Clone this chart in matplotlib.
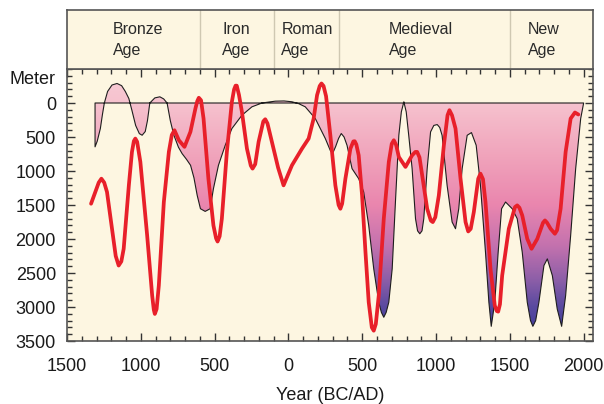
import numpy as np
import matplotlib
matplotlib.use("Agg")
import matplotlib.pyplot as plt
import matplotlib.transforms as mtransforms
from matplotlib.colors import LinearSegmentedColormap, Normalize

plt.rcParams['font.family'] = ['Liberation Sans', 'DejaVu Sans']

# black curve (shaded), year vs depth in meters
black_year = [-1310, -1295, -1274, -1260, -1247, -1225, -1195, -1161, -1130, -1105, -1081,
              -1060, -1035, -1010, -991, -970, -955, -939, -905, -871, -845, -822,
              -800, -776, -745, -720, -690, -663, -640, -618, -596, -564, -530, -508,
              -474, -428, -383, -315, -247, -179, -130, -89, -30, 24, 70, 114, 182, 250,
              284, 300, 320, 340, 358, 377, 397, 431, 476, 510, 544, 578, 612, 630, 646,
              662, 680, 703, 725, 748, 765, 782, 798, 815, 838, 861, 875, 890, 905, 917,
              940, 963, 985, 1008, 1025, 1041, 1075, 1109, 1132, 1154, 1177, 1211, 1240,
              1272, 1301, 1335, 1358, 1374, 1398, 1421, 1444, 1471, 1516, 1550, 1584,
              1618, 1640, 1656, 1675, 1697, 1731, 1754, 1788, 1821, 1851, 1878, 1912,
              1946, 1980, 2000]
black_depth = [645, 560, 375, 170, 0, -170, -265, -287, -255, -170, -66,
               110, 330, 450, 474, 420, 260, 0, -75, -91, -60, 0,
               260, 474, 650, 745, 830, 916, 1100, 1358, 1555, 1594, 1555, 1260,
               916, 622, 376, 180, 56, 0, -15, -27, -30, -18, 10, 56, 228, 523,
               700, 740, 640, 520, 449, 500, 622, 965, 1113, 1309, 1801, 2439, 2930, 3080, 3151,
               3080, 2930, 2439, 1456, 475, 130, -18, 130, 475, 965, 1702, 1880, 1923, 1880, 1702,
               965, 425, 330, 317, 360, 475, 1211, 1751, 1849, 1555, 965, 475, 435,
               622, 1211, 2193, 2930, 3284, 2930, 2193, 1555, 1456, 1555, 1702, 2193,
               2930, 3200, 3284, 3200, 2930, 2390, 2292, 2538, 3029, 3284, 2832, 1948,
               965, 228, 0]

# red curve
red_year = [-1337, -1308, -1285, -1267, -1248, -1229, -1195, -1170, -1150, -1132, -1116,
            -1081, -1060, -1047, -1037, -1025, -1003, -957, -923, -912, -905, -893, -878,
            -844, -810, -790, -772, -742, -704, -664, -630, -617, -607, -592, -575, -542,
            -508, -490, -480, -466, -451, -417, -383, -368, -358, -350, -335, -315, -281,
            -255, -243, -225, -202, -170, -157, -142, -112, -70, -33, 24, 92, 137, 171, 194,
            212, 224, 238, 255, 284, 318, 340, 352, 364, 386, 420, 440, 449, 460, 476, 499,
            522, 544, 565, 578, 592, 612, 646, 680, 700, 714, 730, 748, 793, 838, 860, 872,
            888, 906, 940, 965, 978, 995, 1019, 1053, 1078, 1091, 1108, 1132, 1166, 1200,
            1218, 1235, 1256, 1286, 1301, 1318, 1335, 1369, 1398, 1412, 1421, 1433, 1448,
            1493, 1535, 1550, 1565, 1584, 1618, 1647, 1686, 1725, 1738, 1752, 1776, 1805,
            1820, 1844, 1878, 1912, 1941, 1964]
red_depth = [1481, 1309, 1170, 1113, 1170, 1309, 1849, 2250, 2390, 2330, 2144,
             1211, 720, 560, 523, 570, 867, 1948, 2832, 3040, 3102, 3030, 2685,
             1456, 719, 470, 401, 548, 645, 425, 81, -30, -77, -40, 228, 1113,
             1801, 1990, 2037, 1960, 1702, 719, -18, -200, -255, -255, -120, 130, 671,
             920, 965, 900, 572, 270, 239, 300, 572, 950, 1211, 916, 671, 523, 228, -115,
             -250, -287, -250, -100, 474, 1211, 1500, 1555, 1480, 1113, 671, 565, 562, 610, 769, 1358,
             2193, 2930, 3300, 3348, 3250, 2832, 1702, 867, 600, 548, 620, 793, 940, 769, 720, 719,
             800, 1063, 1555, 1730, 1751, 1680, 1358, 622, 180, 106, 180, 376, 1113, 1751,
             1889, 1850, 1603, 1113, 1039, 1120, 1456, 2439, 2980, 3060, 3068, 2960, 2538,
             1849, 1530, 1506, 1540, 1653, 1997, 2144, 1997, 1760, 1727, 1760, 1849, 1923,
             1870, 1555, 719, 228, 140, 169]

ages = ['Bronze\nAge', 'Iron\nAge', 'Roman\nAge', 'Medieval\nAge', 'New\nAge']
age_text_x = [-1188, -448, -48, 678, 1620]
age_bounds = [-600, -100, 340, 1500]

cream = '#fdf6e1'
edge = '#555555'

fig = plt.figure(figsize=(6.04, 4.04), dpi=100)
ax = fig.add_axes([67 / 604, 1 - 341 / 404, 525.5 / 604, 272 / 404])
hax = fig.add_axes([67 / 604, 1 - 69 / 404, 525.5 / 604, 59 / 404])

# gradient fill clipped to the area between 0 and the black curve
cmap = LinearSegmentedColormap.from_list('sea', [
    (0.0, '#f8cbd5'), (400 / 3800, '#f6c2ce'), (1200 / 3800, '#f0a3bb'),
    (1900 / 3800, '#ea86ae'), (2500 / 3800, '#c472ae'), (3000 / 3800, '#8e5fa8'),
    (3400 / 3800, '#5a4aa0'), (1.0, '#3f3a98')])
depth = np.linspace(-400, 3400, 500).reshape(-1, 1)
im = ax.imshow(depth, cmap=cmap, norm=Normalize(-400, 3400), aspect='auto',
               extent=[-1500, 2060, 3400, -400], origin='upper', zorder=1,
               interpolation='bilinear')
poly = ax.fill_between(black_year, 0, black_depth, facecolor='none',
                       edgecolor='#1e1e1e', lw=0.8, zorder=2)
im.set_clip_path(poly.get_paths()[0], transform=ax.transData)

ax.plot(red_year, red_depth, color='#e8202a', lw=2.7, zorder=3,
        solid_joinstyle='round', solid_capstyle='round')

ax.set_facecolor(cream)
ax.set_xlim(-1500, 2060)
ax.set_ylim(3500, -500)
ax.set_xticks(np.arange(-1500, 2001, 500))
ax.set_xticklabels([str(abs(v)) for v in range(-1500, 2001, 500)])
ax.set_xticks(np.arange(-1500, 2061, 100), minor=True)
ax.set_yticks(np.arange(0, 3501, 500))
ax.set_yticks(np.arange(-500, 3501, 100), minor=True)
ax.tick_params(which='both', direction='in', top=True, right=True,
               color='#333333', width=1.0, labelsize=13, labelcolor='#1a1a1a')
ax.tick_params(which='major', length=6)
ax.tick_params(which='minor', length=3.5)
ax.tick_params(axis='y', pad=8)
ax.tick_params(axis='x', pad=12)
for s in ax.spines.values():
    s.set_color(edge)
    s.set_linewidth(1.2)
ax.set_xlabel('Year (BC/AD)', fontsize=13, color='#1a1a1a', labelpad=9)

trans = mtransforms.blended_transform_factory(ax.transAxes, ax.transData)
ax.text(-0.021, -340, 'Meter', transform=trans, ha='right', va='center',
        fontsize=13, color='#1a1a1a')

# header with the periods
hax.set_facecolor(cream)
hax.set_xlim(-1500, 2060)
hax.set_ylim(0, 1)
hax.set_xticks([])
hax.set_yticks([])
for s in hax.spines.values():
    s.set_color(edge)
    s.set_linewidth(1.2)
for b in age_bounds:
    hax.axvline(b, color='#cfc8b2', lw=1.0)
for label, x in zip(ages, age_text_x):
    hax.text(x, 0.5, label, ha='left', va='center', fontsize=11.5,
             color='#2a2a2a', linespacing=1.5)

fig.savefig('out.png', dpi=100, facecolor='white')
